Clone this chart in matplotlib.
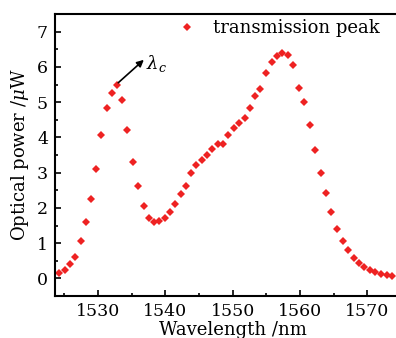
import numpy as np
import matplotlib
matplotlib.use('Agg')
import matplotlib.pyplot as plt
from matplotlib.ticker import MultipleLocator

# transmission peak data
wavelength = [1524.25, 1525.05, 1525.84, 1526.63, 1527.43, 1528.17, 1528.96, 1529.75,
              1530.5, 1531.29, 1532.08, 1532.82, 1533.57, 1534.35, 1535.2, 1535.99,
              1536.79, 1537.58, 1538.37, 1539.1, 1539.9, 1540.64, 1541.49, 1542.29,
              1543.03, 1543.82, 1544.6, 1545.4, 1546.2, 1546.98, 1547.83, 1548.57,
              1549.36, 1550.16, 1550.95, 1551.8, 1552.6, 1553.37, 1554.12, 1554.96,
              1555.8, 1556.6, 1557.39, 1558.23, 1559.02, 1559.82, 1560.65, 1561.45,
              1562.29, 1563.09, 1563.88, 1564.67, 1565.5, 1566.36, 1567.15, 1568.0,
              1568.78, 1569.57, 1570.4, 1571.2, 1572.05, 1572.9, 1573.7]
power = [0.15, 0.23, 0.41, 0.60, 1.06, 1.60, 2.24, 3.11,
         4.08, 4.83, 5.27, 5.49, 5.05, 4.21, 3.31, 2.61,
         2.06, 1.72, 1.61, 1.62, 1.70, 1.87, 2.12, 2.40,
         2.63, 2.98, 3.22, 3.37, 3.50, 3.68, 3.80, 3.81,
         4.07, 4.27, 4.40, 4.56, 4.84, 5.18, 5.36, 5.82,
         6.15, 6.31, 6.38, 6.35, 6.06, 5.40, 4.99, 4.35,
         3.65, 2.98, 2.42, 1.87, 1.40, 1.07, 0.80, 0.59,
         0.44, 0.33, 0.23, 0.18, 0.12, 0.10, 0.08]

plt.rcParams['font.family'] = 'DejaVu Serif'
plt.rcParams['mathtext.fontset'] = 'dejavuserif'

fig = plt.figure(figsize=(3.96, 3.38), dpi=100)
ax = fig.add_axes([55/396, 42/338, 356/396, 282/338])

ax.plot(wavelength, power, 'D', color='#ee2222', markersize=4.2, markeredgewidth=0,
        label='transmission peak')

ax.set_xlim(1523.6, 1576.5)
ax.set_ylim(-0.5, 7.5)
ax.xaxis.set_major_locator(MultipleLocator(10))
ax.xaxis.set_minor_locator(MultipleLocator(5))
ax.yaxis.set_major_locator(MultipleLocator(1))
ax.yaxis.set_minor_locator(MultipleLocator(0.5))
ax.tick_params(which='both', direction='in', labelsize=12.5, width=1.2)
ax.tick_params(which='major', length=4.5, pad=5)
ax.tick_params(which='minor', length=2.5)
ax.spines['right'].set_visible(False)
for s in ['left', 'bottom', 'top']:
    ax.spines[s].set_linewidth(1.5)

ax.set_xlabel('Wavelength /nm', fontsize=13, labelpad=1)
ax.set_ylabel('Optical power /$\\mu$W', fontsize=13, labelpad=4)

ax.annotate('', xy=(1536.8, 6.2), xytext=(1533.0, 5.55),
            arrowprops=dict(arrowstyle='-|>', color='black', lw=1.2, mutation_scale=10,
                            shrinkA=0, shrinkB=0))
ax.text(1537.1, 6.1, r'$\lambda_c$', fontsize=13, va='center', ha='left')

ax.legend(loc='center left', bbox_to_anchor=((178 - 55) / 356, 0.95), frameon=False,
          fontsize=13, handletextpad=0.95, borderaxespad=0, borderpad=0,
          handlelength=1.0)

fig.savefig('out.png', dpi=100)
